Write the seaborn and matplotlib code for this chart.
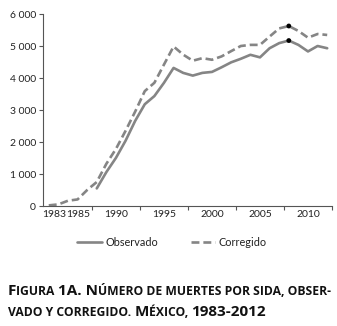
#!/usr/bin/env python3
# -*- coding: utf-8 -*-

import seaborn as sns
import numpy as np
import pandas as pd
import matplotlib.pyplot as plt
import matplotlib.ticker as mtick
from matplotlib.lines import Line2D

sns.set_theme(style='ticks')
plt.rcParams['font.family'] = ['Lato', 'DejaVu Sans']

#::: data
years = list(range(1983, 2013))
observado = [np.nan, np.nan, np.nan, np.nan, np.nan,
             550, 1060, 1505, 2040, 2660, 3180, 3435, 3850, 4315, 4160,
             4075, 4160, 4190, 4335, 4490, 4600, 4725, 4645, 4930, 5090,
             5170, 5035, 4830, 5000, 4930]
corregido = [20, 50, 165, 205, 500,
             750, 1320, 1785, 2350, 2950, 3590, 3850, 4420, 4985, 4730,
             4540, 4620, 4570, 4675, 4840, 5000, 5035, 5035, 5295, 5550,
             5625, 5470, 5260, 5375, 5345]
highlight_year = 2008
ytick_values = [0, 1000, 2000, 3000, 4000, 5000, 6000]
xtick_labels = ['1983', '1985', '1990', '1995', '2000', '2005', '2010']

df = pd.DataFrame({'year': years * 2,
                   'muertes': observado + corregido,
                   'serie': ['Observado'] * len(years) + ['Corregido'] * len(years)})

#::: figure
fig = plt.figure(figsize=(3.37, 3.26), dpi=100)
ax = fig.add_axes([43 / 337, 1 - 206 / 326, 289 / 337, 192 / 326])

grey = '#858585'
sns.lineplot(data=df, x='year', y='muertes', style='serie', color=grey,
             dashes={'Observado': '', 'Corregido': (3.0, 1.5)},
             linewidth=1.9, ax=ax, legend=False)
sns.scatterplot(data=df[df['year'] == highlight_year], x='year', y='muertes',
                color='black', s=12, edgecolor='none', ax=ax, zorder=5)

ax.set_xlim(1982.4, 2012.5)
ax.set_ylim(0, 6000)
ax.set_xlabel('')
ax.set_ylabel('')
sns.despine(ax=ax)
for s in ['left', 'bottom']:
    ax.spines[s].set_color('#555555')
    ax.spines[s].set_linewidth(0.8)

ax.set_yticks(ytick_values)
ax.yaxis.set_major_formatter(mtick.FuncFormatter(lambda v, p: f'{int(v):,}'.replace(',', ' ')))
ax.tick_params(axis='y', length=3, width=0.8, color='#555555', pad=2, labelsize=7.5, labelcolor='#222222')

# category-style axis: tick marks between years, labels on the years
ax.set_xticks(np.arange(1987.5, 2013, 5))
ax.set_xticklabels([])
label_pos = [1983.6, 1986.1, 1990, 1995, 2000, 2005, 2010]
ax.set_xticks(label_pos, minor=True)
ax.set_xticklabels(xtick_labels, minor=True)
ax.tick_params(axis='x', which='major', length=3, width=0.8, color='#555555')
ax.tick_params(axis='x', which='minor', length=0, pad=3, labelsize=7.5, labelcolor='#222222')

#::: legend
handles = [Line2D([], [], color=grey, lw=1.9),
           Line2D([], [], color=grey, lw=1.9, dashes=(3.0, 1.5))]
fig.legend(handles, ['Observado', 'Corregido'], loc='center', ncol=2,
           bbox_to_anchor=(172 / 337, 1 - 242 / 326), frameon=False,
           fontsize=7.8, handlelength=2.3, handletextpad=0.3, columnspacing=3.0,
           labelcolor='#222222')

#::: caption with faux small caps
big, small = 11, 8.7
lines = [
    [('F', big), ('IGURA ', small), ('1A. N', big), ('ÚMERO DE MUERTES POR SIDA, OBSER-', small)],
    [('VADO Y CORREGIDO. ', small), ('M', big), ('ÉXICO, ', small), ('1983-2012', big)],
]
renderer = fig.canvas.get_renderer()
for row, pieces in zip([1 - 295 / 326, 1 - 316 / 326], lines):
    x = 8 / 337
    for txt, size in pieces:
        t = fig.text(x, row, txt, fontsize=size, fontweight='bold', family=['Open Sans', 'DejaVu Sans'],
                     color='#111111', va='baseline', ha='left')
        bb = t.get_window_extent(renderer=renderer)
        x = fig.transFigure.inverted().transform((bb.x1, 0))[0]

fig.savefig('out.png', dpi=100)
